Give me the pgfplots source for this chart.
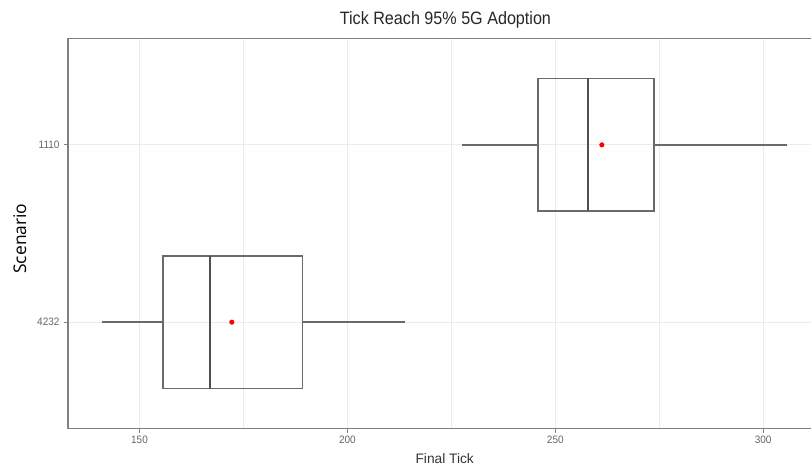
\documentclass[border=0pt]{standalone}
\usepackage{fontspec}
\setmainfont{Liberation Sans}
\newfontfamily\titlefont[FakeStretch=0.9]{Liberation Sans}
\newfontfamily\tickfont[FakeStretch=0.93]{Liberation Sans}
\newfontfamily\labfont{Open Sans}
\usepackage{pgfplots}
\pgfplotsset{compat=1.18}
\usepgfplotslibrary{statistics}
\definecolor{boxgray}{HTML}{6A6A6A}
\definecolor{medgray}{HTML}{505050}
\definecolor{axisgray}{HTML}{808080}
\definecolor{gridgray}{HTML}{EBEBEB}
\definecolor{tickgray}{HTML}{666666}
\begin{document}
\begin{tikzpicture}
\useasboundingbox (0,0) rectangle (811bp,466bp);
\begin{axis}[
  at={(68bp,37.5bp)}, anchor=south west,
  scale only axis, width=743bp, height=390bp,
  xmin=132.8, xmax=311.5, ymin=0.4, ymax=2.6,
  axis x line*=bottom, axis y line*=left,
  axis line style={draw=axisgray, line width=1.6bp},
  xtick={150,200,250,300}, minor xtick={175,225,275},
  ytick={1,2}, yticklabels={4232,1110},
  /pgf/number format/assume math mode=true,
  xmajorgrids, xminorgrids, ymajorgrids,
  major grid style={draw=gridgray, line width=0.9bp},
  minor grid style={draw=gridgray, line width=0.7bp},
  tick align=outside, major tick length=4bp, minor tick length=0pt,
  tick style={draw=axisgray, line width=1.1bp},
  ticklabel style={font=\tickfont\fontsize{10.8}{12}\selectfont, text=tickgray},
  xticklabel style={yshift=0bp},
  yticklabel style={xshift=-1bp},
  boxplot/draw direction=x,
  boxplot/every median/.style={draw=medgray, line width=2.2bp},
  title={\titlefont\fontsize{18}{20}\selectfont Tick Reach 95\% 5G Adoption},
  title style={at={(axis description cs:0.508,1.0218)}, anchor=base, inner sep=0pt, text=black!85},
  xlabel={\fontsize{13.8}{15}\selectfont Final Tick},
  xlabel style={at={(axis description cs:0.507,-0.091)}, anchor=base, inner sep=0pt, text=black!80},
  ylabel={\labfont\fontsize{17.5}{19}\selectfont Scenario},
  ylabel style={at={(axis description cs:-0.065,0.487)}, anchor=center, inner sep=0pt},
  after end axis/.code={\draw[axisgray, line width=1.6bp] (rel axis cs:0,1) -- (rel axis cs:1,1);},
]
\addplot[draw=boxgray, line width=1.5bp, boxplot prepared={draw position=1,
  lower whisker=141.05, lower quartile=155.7, median=167.0,
  upper quartile=189.2, upper whisker=213.9, box extend=0.75, whisker extend=0,
  every box/.style={draw=boxgray, line width=1.7bp}}]
  coordinates {};
\addplot[draw=boxgray, line width=1.5bp, boxplot prepared={draw position=2,
  lower whisker=227.6, lower quartile=245.9, median=257.8,
  upper quartile=273.8, upper whisker=305.7, box extend=0.75, whisker extend=0,
  every box/.style={draw=boxgray, line width=1.7bp}}]
  coordinates {};
\addplot[only marks, mark=*, mark size=2.3bp, color=red, mark options={fill=red, draw=red}]
  coordinates {(172.2,1) (261.2,2)};
\end{axis}
\end{tikzpicture}
\end{document}
